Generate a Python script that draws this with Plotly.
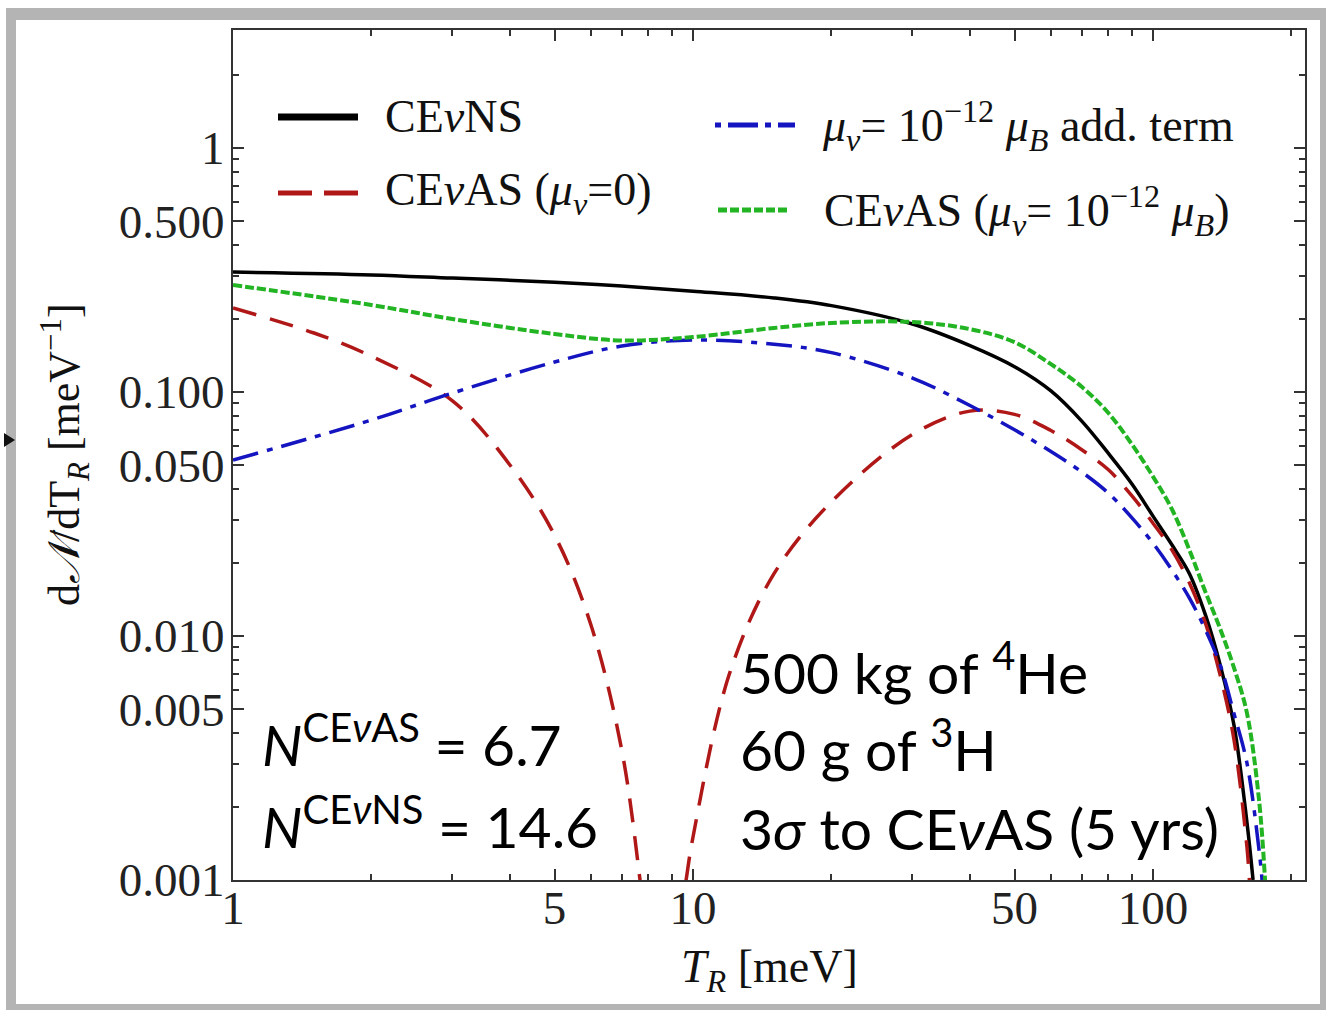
import plotly.graph_objects as go

# ---------------- data ----------------
x_ns = [1, 2, 3, 5, 7, 10, 15, 20, 30, 40, 50, 60, 70, 80, 90, 100, 110, 120, 130, 140, 150, 160, 165]
y_ns = [0.310, 0.302, 0.293, 0.282, 0.272, 0.259, 0.243, 0.226, 0.190, 0.155, 0.127, 0.101, 0.076,
        0.056, 0.042, 0.031, 0.0236, 0.0180, 0.0122, 0.0076, 0.0043, 0.00173, 0.001]

x_as0 = [1, 1.5, 2, 3, 4, 5, 6, 7, 7.67, 7.9, None, 9.4, 9.66, 10, 12, 15, 20, 30, 40, 50, 60, 70, 80, 90,
         100, 110, 120, 130, 140, 150, 160, 162]
y_as0 = [0.221, 0.1745, 0.140, 0.0920, 0.0502, 0.0259, 0.0111, 0.00341, 0.001, 0.0006, None, 0.0007, 0.001,
         0.00150, 0.0070, 0.0180, 0.0355, 0.0670, 0.0835, 0.0810, 0.0695, 0.058, 0.048, 0.0375,
         0.0290, 0.0225, 0.0165, 0.0113, 0.0069, 0.00375, 0.00137, 0.001]

x_mu = [1, 2, 3, 5, 7, 10, 15, 20, 30, 40, 50, 60, 70, 80, 90, 100, 110, 120, 130, 140, 150, 160, 170, 172.6]
y_mu = [0.0526, 0.0768, 0.099, 0.1327, 0.1543, 0.1633, 0.157, 0.145, 0.1141, 0.088, 0.0700, 0.0570,
        0.047, 0.0385, 0.0305, 0.0240, 0.0186, 0.0143, 0.0106, 0.0076, 0.00480, 0.00302, 0.00133, 0.001]

x_asmu = [1, 2, 3, 5, 7, 10, 15, 20, 30, 40, 50, 60, 70, 80, 90, 100, 110, 120, 130, 140, 150, 160, 170, 175.2]
y_asmu = [0.2745, 0.2273, 0.1991, 0.1729, 0.1626, 0.168, 0.183, 0.1918, 0.1936, 0.181, 0.1600, 0.130,
          0.1050, 0.0820, 0.0610, 0.0450, 0.0330, 0.0225, 0.01515, 0.01069, 0.0074, 0.00484, 0.00213, 0.001]

x_tickvals = [1, 5, 10, 50, 100]
x_ticktext = ["1", "5", "10", "50", "100"]
x_minor = [2, 3, 4, 6, 7, 8, 9, 20, 30, 40, 60, 70, 80, 90, 200]
y_tickvals = [0.001, 0.005, 0.01, 0.05, 0.1, 0.5, 1]
y_ticktext = ["0.001", "0.005", "0.010", "0.050", "0.100", "0.500", "1"]
y_minor = [0.002, 0.003, 0.004, 0.006, 0.007, 0.008, 0.009,
           0.02, 0.03, 0.04, 0.06, 0.07, 0.08, 0.09,
           0.2, 0.3, 0.4, 0.6, 0.7, 0.8, 0.9, 2]

# ---------------- layout geometry ----------------
W, H = 1326, 1010
L, R, T, B = 233, 1305, 30, 880


def px(x):
    return (x - L) / (R - L)


def py(y):
    return (B - y) / (B - T)


BLACK = "#000000"
RED = "#b01818"
BLUE = "#1414c0"
GREEN = "#22b422"
SERIF = "Liberation Serif"
SANS = "Lato"
SM = 1.0

fig = go.Figure()
fig.add_trace(go.Scatter(x=x_ns, y=y_ns, mode="lines",
                         line=dict(color=BLACK, width=3.5, shape="spline", smoothing=SM), name="CEνNS"))
fig.add_trace(go.Scatter(x=x_as0, y=y_as0, mode="lines", connectgaps=False,
                         line=dict(color=RED, width=3.5, dash="24px,14px", shape="spline", smoothing=SM),
                         name="CEνAS (μν=0)"))
fig.add_trace(go.Scatter(x=x_mu, y=y_mu, mode="lines",
                         line=dict(color=BLUE, width=3.5, dash="26px,9px,6px,9px", shape="spline", smoothing=SM),
                         name="μν add. term"))
fig.add_trace(go.Scatter(x=x_asmu, y=y_asmu, mode="lines",
                         line=dict(color=GREEN, width=4, dash="9px,3px", shape="spline", smoothing=SM),
                         name="CEνAS (μν=1e-12)"))

axis_common = dict(
    type="log", showgrid=False, zeroline=False,
    showline=True, linecolor="#333333", linewidth=2, mirror="ticks",
    ticks="inside", ticklen=11, tickwidth=2, tickcolor="#333333",
    tickfont=dict(family=SERIF, size=47, color="#222222"),
)

fig.update_xaxes(
    **axis_common, range=[0, 2.3304], tickmode="array", tickvals=x_tickvals, ticktext=x_ticktext,
    ticklabelstandoff=-14,
    minor=dict(tickmode="array", tickvals=x_minor, ticks="inside", ticklen=6, tickwidth=1.5, tickcolor="#333333"),
)
fig.update_yaxes(
    **axis_common, range=[-3, 0.4836], tickmode="array", tickvals=y_tickvals, ticktext=y_ticktext,
    ticklabelstandoff=-3,
    minor=dict(tickmode="array", tickvals=y_minor, ticks="inside", ticklen=6, tickwidth=1.5, tickcolor="#333333"),
)

shapes = []
# outer gray frame of the screenshot
shapes.append(dict(type="rect", xref="paper", yref="paper", x0=px(6), x1=px(1326), y0=py(8), y1=py(1010),
                   fillcolor="#b4b4b4", line=dict(width=0), layer="below"))
shapes.append(dict(type="rect", xref="paper", yref="paper", x0=px(16), x1=px(1320), y0=py(20), y1=py(1004),
                   fillcolor="#ffffff", line=dict(width=0), layer="below"))
# small marker at left edge
shapes.append(dict(type="path", xref="paper", yref="paper",
                   path=f"M {px(4)} {py(433)} L {px(15)} {py(440)} L {px(4)} {py(447)} Z",
                   fillcolor="#111111", line=dict(width=0)))

# legend samples
shapes.append(dict(type="line", xref="paper", yref="paper", x0=px(278), x1=px(358), y0=py(117), y1=py(117),
                   line=dict(color=BLACK, width=7)))
shapes.append(dict(type="line", xref="paper", yref="paper", x0=px(278), x1=px(358), y0=py(193), y1=py(193),
                   line=dict(color=RED, width=5, dash="34px,12px")))
shapes.append(dict(type="line", xref="paper", yref="paper", x0=px(715), x1=px(795), y0=py(125), y1=py(125),
                   line=dict(color=BLUE, width=5, dash="6px,7px,30px,7px")))
shapes.append(dict(type="line", xref="paper", yref="paper", x0=px(718), x1=px(790), y0=py(210), y1=py(210),
                   line=dict(color=GREEN, width=5, dash="9px,3px")))

ann = []


def text(x, y, s, size, family, xanchor="left", angle=0, color="#111111"):
    ann.append(dict(x=px(x), y=py(y), xref="paper", yref="paper", text=s, showarrow=False,
                    xanchor=xanchor, yanchor="middle", textangle=angle,
                    font=dict(family=family, size=size, color=color)))


text(383, 117, "CE<i>ν</i>NS", 46, SERIF)
text(383, 193, "CE<i>ν</i>AS (<i>μ<sub>ν</sub></i>=0)", 46, SERIF)
text(820, 125, "<i>μ<sub>ν</sub></i>= 10<sup>−12</sup> <i>μ<sub>B</sub></i> add. term", 46, SERIF)
text(822, 210, "CE<i>ν</i>AS (<i>μ<sub>ν</sub></i>= 10<sup>−12</sup> <i>μ<sub>B</sub></i>)", 46, SERIF)

text(769, 970, "<i>T<sub>R</sub></i> [meV]", 46, SERIF, xanchor="center")
text(65, 455, "d<i>𝒩</i>/dT<sub><i>R</i></sub> [meV<sup>−1</sup>]", 44, SERIF, xanchor="center", angle=-90)

text(738, 668, "500 kg of <sup>4</sup>He", 57, SANS, color="#000000")
text(738, 745, "60 g of <sup>3</sup>H", 57, SANS, color="#000000")
text(738, 828, "3<i>σ</i> to CE<i>ν</i>AS (5 yrs)", 57, SANS, color="#000000")
text(260, 740, "<i>N</i><sup>CE<i>ν</i>AS</sup> = 6.7", 57, SANS, color="#000000")
text(260, 822, "<i>N</i><sup>CE<i>ν</i>NS</sup> = 14.6", 57, SANS, color="#000000")

fig.update_layout(
    width=W, height=H, autosize=False,
    margin=dict(l=L, r=W - R, t=T, b=H - B, pad=0),
    paper_bgcolor="#ffffff", plot_bgcolor="rgba(0,0,0,0)",
    showlegend=False, shapes=shapes, annotations=ann,
)

fig.write_html("out.html")
